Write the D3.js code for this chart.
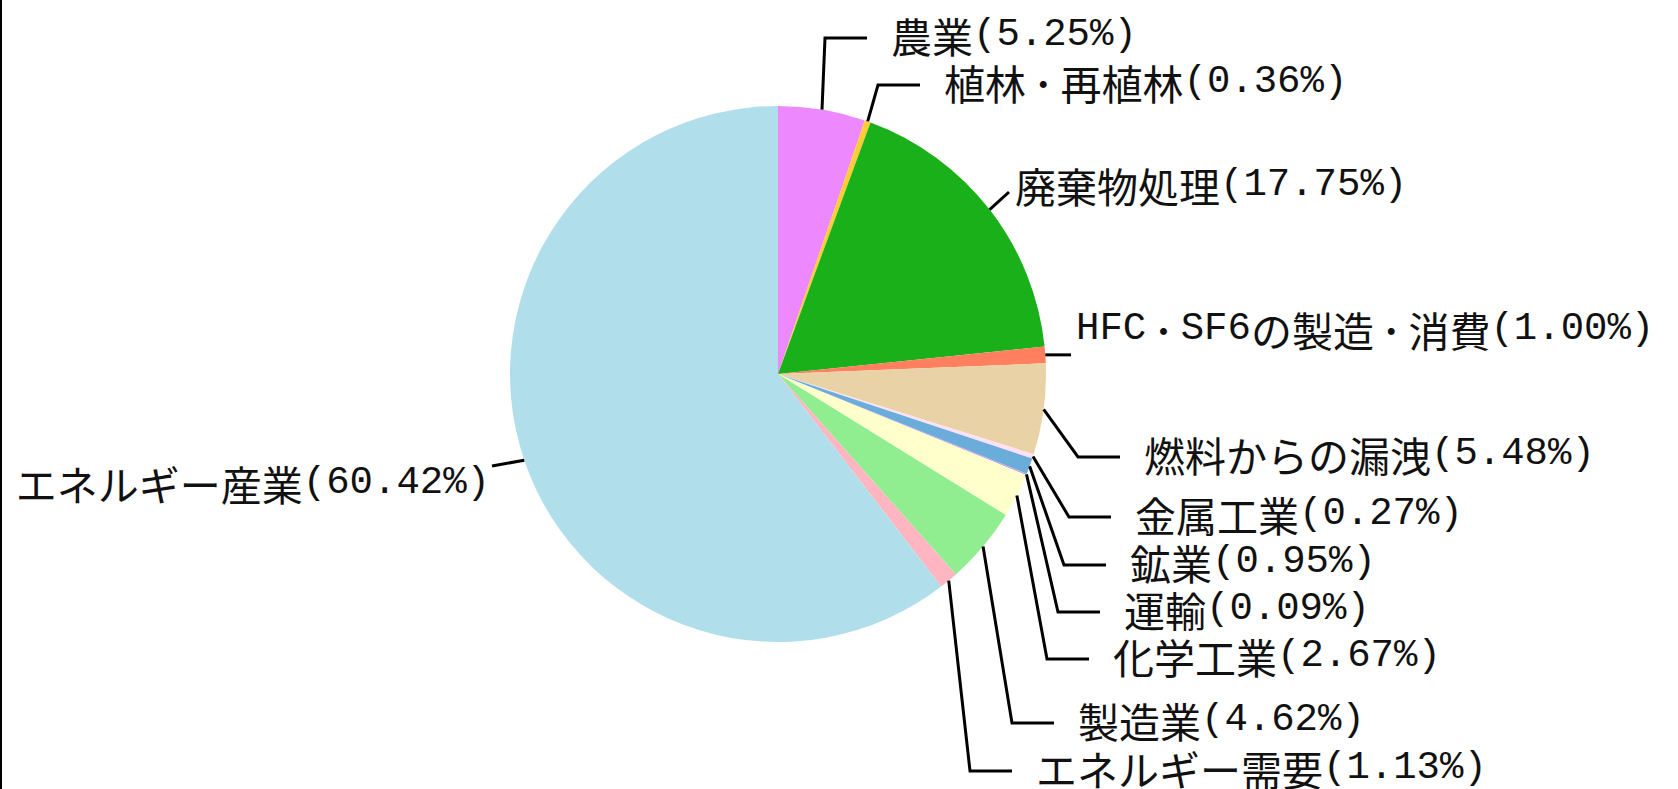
<!DOCTYPE html>
<html>
<head>
<meta charset="utf-8">
<script src="https://cdn.jsdelivr.net/npm/d3@7"></script>
<style>
  html, body { margin: 0; padding: 0; background: #fff; overflow: hidden; }
  svg { display: block; }
</style>
</head>
<body>
<div id="chart"></div>
<script>
// sector names and shares (%), clockwise from 12 o'clock
const sectors = ['農業', '植林･再植林', '廃棄物処理', 'HFC･SF6の製造･消費', '燃料からの漏洩',
    '金属工業', '鉱業', '運輸', '化学工業', '製造業', 'エネルギー需要', 'エネルギー産業']
const shares = [5.25, 0.36, 17.75, 1.00, 5.48, 0.27, 0.95, 0.09, 2.67, 4.62, 1.13, 60.42]
const sliceColors = ['#EE88FF', '#FFCC33', '#1AB01A', '#FF7F5F', '#E8D2A6', '#FFE0F6',
    '#6AACDA', '#C8A0E8', '#FFFFCC', '#90EE90', '#FFB6C1', '#B0DFEB']

// label placement (layout only): leader kind, text x, leader y
const labelLayout = [
    { kind: 'elbow', x: 891, y: 38 },
    { kind: 'elbow', x: 944, y: 85 },
    { kind: 'diag', x: 1015, y: 192 },
    { kind: 'flat', x: 1076, y: 355 },
    { kind: 'elbow', x: 1144, y: 457 },
    { kind: 'elbow', x: 1135, y: 517 },
    { kind: 'elbow', x: 1130, y: 565 },
    { kind: 'elbow', x: 1124, y: 612 },
    { kind: 'elbow', x: 1113, y: 659 },
    { kind: 'elbow', x: 1078, y: 723 },
    { kind: 'elbow', x: 1036, y: 771 },
    { kind: 'left', x: 490, y: 466 }
]

const width = 1678, height = 789
const cx = 778, cy = 374, radius = 268

const svg = d3.select('#chart')
    .append('svg')
    .attr('width', width)
    .attr('height', height)

// thin frame line on the left edge
svg.append('line')
    .attr('x1', 1).attr('x2', 1)
    .attr('y1', 0).attr('y2', height)
    .attr('stroke', '#000')
    .attr('stroke-width', 2)

const pie = d3.pie().sort(null).value(d => d)
const arcs = pie(shares)
const arc = d3.arc().innerRadius(0).outerRadius(radius)

const g = svg.append('g')
    .attr('transform', 'translate(' + cx + ',' + cy + ')')

g.selectAll('path')
    .data(arcs)
    .enter()
    .append('path')
    .attr('d', arc)
    .attr('fill', (d, i) => sliceColors[i])

// leader lines
function edgePoint(d) {
    let a = (d.startAngle + d.endAngle) / 2
    return [cx + radius * Math.sin(a), cy - radius * Math.cos(a)]
}

const leaders = svg.append('g')
arcs.forEach((d, i) => {
    let lay = labelLayout[i]
    let p = edgePoint(d)
    let pts
    if (lay.kind == 'elbow') pts = [p, [lay.x - 66, lay.y], [lay.x - 24, lay.y]]
    else if (lay.kind == 'diag') pts = [p, [lay.x - 6, lay.y]]
    else if (lay.kind == 'flat') pts = [p, [lay.x - 5, p[1]]]
    else pts = [p, [lay.x + 2, lay.y]]
    leaders.append('path')
        .attr('d', d3.line()(pts))
        .attr('fill', 'none')
        .attr('stroke', '#000')
        .attr('stroke-width', 3)
})

// labels: ascii runs in a monospaced face, the rest in the CJK face
function addLabel(txt, x, y, anchor) {
    let t = svg.append('text')
        .attr('x', x)
        .attr('y', y)
        .attr('text-anchor', anchor)
        .attr('dominant-baseline', 'central')
        .attr('fill', '#111')
    let runs = txt.match(/･|[\x21-\x7e]+|[^\x21-\x7e･]+/g)
    runs.forEach(r => {
        let ascii = /^[\x21-\x7e]+$/.test(r)
        let ts = t.append('tspan')
            .attr('font-family', ascii ? '"Liberation Mono", "DejaVu Sans Mono", monospace' : '"Noto Sans CJK JP", sans-serif')
            .attr('font-size', ascii ? 39 : 41)
            .text(r)
        if (r == '･') ts.attr('dx', 7).attr('letter-spacing', 7)
    })
}

sectors.forEach((s, i) => {
    let lay = labelLayout[i]
    let txt = s + '(' + shares[i].toFixed(2) + '%)'
    if (lay.kind == 'elbow') addLabel(txt, lay.x, lay.y - 3, 'start')
    else if (lay.kind == 'diag') addLabel(txt, lay.x, lay.y - 7, 'start')
    else if (lay.kind == 'flat') addLabel(txt, lay.x, lay.y - 26, 'start')
    else addLabel(txt, lay.x, lay.y + 17, 'end')
})
</script>
</body>
</html>
